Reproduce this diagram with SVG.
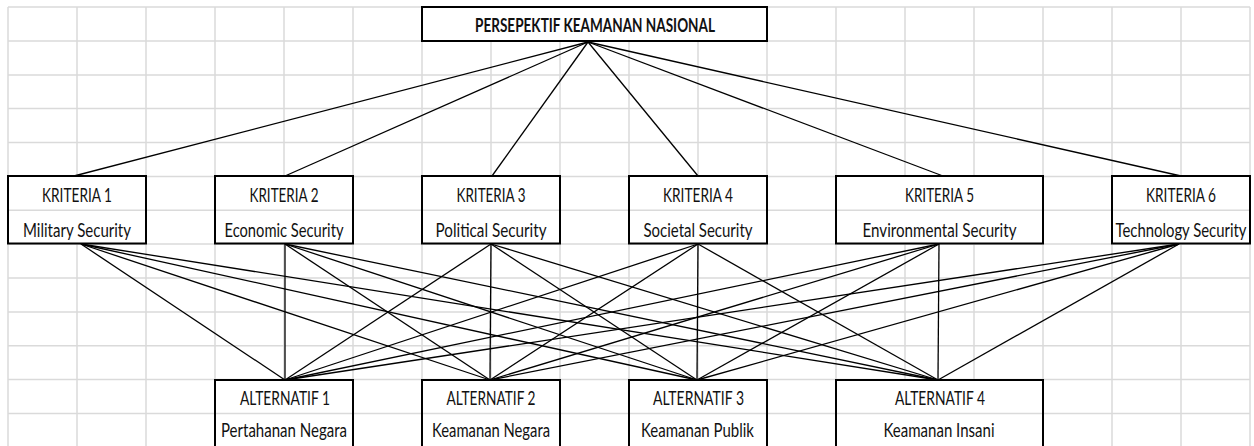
<svg xmlns="http://www.w3.org/2000/svg" width="1254" height="446" viewBox="0 0 1254 446">
  <style>
    .grid line { stroke: #dadada; stroke-width: 1.5; }
    .box { fill: #ffffff; stroke: #000000; stroke-width: 2; }
    .inner { stroke: #dadada; stroke-width: 1.5; }
    .lbl { font-family: Lato, "Liberation Sans", sans-serif; font-size: 19.5px; fill: #111111; text-anchor: middle; }
    .title { font-weight: 700; }
    #connectors line { stroke: #000000; stroke-width: 1.3; }
  </style>
  <rect width="1254" height="446" fill="#ffffff"/>

  <!-- worksheet cell grid -->
  <g class="grid" id="grid">
    <line x1="8" y1="7" x2="8" y2="446"/>
    <line x1="77" y1="7" x2="77" y2="446"/>
    <line x1="146" y1="7" x2="146" y2="446"/>
    <line x1="215" y1="7" x2="215" y2="446"/>
    <line x1="284" y1="7" x2="284" y2="446"/>
    <line x1="353" y1="7" x2="353" y2="446"/>
    <line x1="422" y1="7" x2="422" y2="446"/>
    <line x1="491" y1="7" x2="491" y2="446"/>
    <line x1="560" y1="7" x2="560" y2="446"/>
    <line x1="629" y1="7" x2="629" y2="446"/>
    <line x1="698" y1="7" x2="698" y2="446"/>
    <line x1="767" y1="7" x2="767" y2="446"/>
    <line x1="836" y1="7" x2="836" y2="446"/>
    <line x1="905" y1="7" x2="905" y2="446"/>
    <line x1="974" y1="7" x2="974" y2="446"/>
    <line x1="1043" y1="7" x2="1043" y2="446"/>
    <line x1="1112" y1="7" x2="1112" y2="446"/>
    <line x1="1181" y1="7" x2="1181" y2="446"/>
    <line x1="1250" y1="7" x2="1250" y2="446"/>
    <line x1="8" y1="7" x2="1250" y2="7"/>
    <line x1="8" y1="41" x2="1250" y2="41"/>
    <line x1="8" y1="75" x2="1250" y2="75"/>
    <line x1="8" y1="108.6" x2="1250" y2="108.6"/>
    <line x1="8" y1="142.5" x2="1250" y2="142.5"/>
    <line x1="8" y1="176.4" x2="1250" y2="176.4"/>
    <line x1="8" y1="210.3" x2="1250" y2="210.3"/>
    <line x1="8" y1="244.1" x2="1250" y2="244.1"/>
    <line x1="8" y1="278" x2="1250" y2="278"/>
    <line x1="8" y1="311.9" x2="1250" y2="311.9"/>
    <line x1="8" y1="345.8" x2="1250" y2="345.8"/>
    <line x1="8" y1="379.6" x2="1250" y2="379.6"/>
    <line x1="8" y1="413.5" x2="1250" y2="413.5"/>
  </g>

  <!-- connectors -->
  <g id="connectors">
    <!-- goal to criteria -->
    <line x1="588" y1="42" x2="74" y2="176"/>
    <line x1="588" y1="42" x2="285" y2="176"/>
    <line x1="588" y1="42" x2="492" y2="176"/>
    <line x1="588" y1="42" x2="698" y2="176"/>
    <line x1="588" y1="42" x2="943" y2="176"/>
    <line x1="588" y1="42" x2="1181" y2="176"/>
    <!-- criteria to alternatives -->
    <line x1="81" y1="244" x2="285" y2="380"/>
    <line x1="81" y1="244" x2="490" y2="380"/>
    <line x1="81" y1="244" x2="697" y2="380"/>
    <line x1="81" y1="244" x2="938" y2="380"/>
    <line x1="285" y1="244" x2="285" y2="380"/>
    <line x1="285" y1="244" x2="490" y2="380"/>
    <line x1="285" y1="244" x2="697" y2="380"/>
    <line x1="285" y1="244" x2="938" y2="380"/>
    <line x1="491" y1="244" x2="285" y2="380"/>
    <line x1="491" y1="244" x2="490" y2="380"/>
    <line x1="491" y1="244" x2="697" y2="380"/>
    <line x1="491" y1="244" x2="938" y2="380"/>
    <line x1="698" y1="244" x2="285" y2="380"/>
    <line x1="698" y1="244" x2="490" y2="380"/>
    <line x1="698" y1="244" x2="697" y2="380"/>
    <line x1="698" y1="244" x2="938" y2="380"/>
    <line x1="939" y1="244" x2="285" y2="380"/>
    <line x1="939" y1="244" x2="490" y2="380"/>
    <line x1="939" y1="244" x2="697" y2="380"/>
    <line x1="939" y1="244" x2="938" y2="380"/>
    <line x1="1179" y1="244" x2="285" y2="380"/>
    <line x1="1179" y1="244" x2="490" y2="380"/>
    <line x1="1179" y1="244" x2="697" y2="380"/>
    <line x1="1179" y1="244" x2="938" y2="380"/>
  </g>

  <!-- goal -->
  <g id="goal">
    <rect class="box" x="422" y="7" width="345" height="34"/>
    <text class="lbl title" x="595" y="32" textLength="240" lengthAdjust="spacingAndGlyphs">PERSEPEKTIF KEAMANAN NASIONAL</text>
  </g>

  <!-- criteria -->
  <g id="kriteria1">
    <rect class="box" x="8" y="176" width="138" height="67.5"/>
    <line class="inner" x1="9" y1="210.3" x2="145" y2="210.3"/>
    <text class="lbl" x="77" y="202" textLength="70" lengthAdjust="spacingAndGlyphs">KRITERIA 1</text>
    <text class="lbl" x="77" y="237" textLength="108" lengthAdjust="spacingAndGlyphs">Military Security</text>
  </g>
  <g id="kriteria2">
    <rect class="box" x="215" y="176" width="138" height="67.5"/>
    <line class="inner" x1="216" y1="210.3" x2="352" y2="210.3"/>
    <text class="lbl" x="284" y="202" textLength="69" lengthAdjust="spacingAndGlyphs">KRITERIA 2</text>
    <text class="lbl" x="284" y="237" textLength="119" lengthAdjust="spacingAndGlyphs">Economic Security</text>
  </g>
  <g id="kriteria3">
    <rect class="box" x="422" y="176" width="138" height="67.5"/>
    <line class="inner" x1="423" y1="210.3" x2="559" y2="210.3"/>
    <text class="lbl" x="491" y="202" textLength="69" lengthAdjust="spacingAndGlyphs">KRITERIA 3</text>
    <text class="lbl" x="491" y="237" textLength="111" lengthAdjust="spacingAndGlyphs">Political Security</text>
  </g>
  <g id="kriteria4">
    <rect class="box" x="629" y="176" width="138" height="67.5"/>
    <line class="inner" x1="630" y1="210.3" x2="766" y2="210.3"/>
    <text class="lbl" x="698" y="202" textLength="70" lengthAdjust="spacingAndGlyphs">KRITERIA 4</text>
    <text class="lbl" x="698" y="237" textLength="109" lengthAdjust="spacingAndGlyphs">Societal Security</text>
  </g>
  <g id="kriteria5">
    <rect class="box" x="836" y="176" width="207" height="67.5"/>
    <line class="inner" x1="837" y1="210.3" x2="1042" y2="210.3"/>
    <text class="lbl" x="939.5" y="202" textLength="69" lengthAdjust="spacingAndGlyphs">KRITERIA 5</text>
    <text class="lbl" x="939.5" y="237" textLength="154" lengthAdjust="spacingAndGlyphs">Environmental Security</text>
  </g>
  <g id="kriteria6">
    <rect class="box" x="1112" y="176" width="138" height="67.5"/>
    <line class="inner" x1="1113" y1="210.3" x2="1249" y2="210.3"/>
    <text class="lbl" x="1181" y="202" textLength="70" lengthAdjust="spacingAndGlyphs">KRITERIA 6</text>
    <text class="lbl" x="1181" y="237" textLength="131" lengthAdjust="spacingAndGlyphs">Technology Security</text>
  </g>

  <!-- alternatives -->
  <g id="alternatif1">
    <rect class="box" x="215" y="380" width="138" height="70"/>
    <line class="inner" x1="216" y1="413.5" x2="352" y2="413.5"/>
    <text class="lbl" x="285" y="405" textLength="90" lengthAdjust="spacingAndGlyphs">ALTERNATIF 1</text>
    <text class="lbl" x="284" y="437" textLength="126" lengthAdjust="spacingAndGlyphs">Pertahanan Negara</text>
  </g>
  <g id="alternatif2">
    <rect class="box" x="422" y="380" width="138" height="70"/>
    <line class="inner" x1="423" y1="413.5" x2="559" y2="413.5"/>
    <text class="lbl" x="491" y="405" textLength="89" lengthAdjust="spacingAndGlyphs">ALTERNATIF 2</text>
    <text class="lbl" x="491" y="437" textLength="118" lengthAdjust="spacingAndGlyphs">Keamanan Negara</text>
  </g>
  <g id="alternatif3">
    <rect class="box" x="629" y="380" width="138" height="70"/>
    <line class="inner" x1="630" y1="413.5" x2="766" y2="413.5"/>
    <text class="lbl" x="698.5" y="405" textLength="91" lengthAdjust="spacingAndGlyphs">ALTERNATIF 3</text>
    <text class="lbl" x="697.5" y="437" textLength="113" lengthAdjust="spacingAndGlyphs">Keamanan Publik</text>
  </g>
  <g id="alternatif4">
    <rect class="box" x="836" y="380" width="207" height="70"/>
    <line class="inner" x1="837" y1="413.5" x2="1042" y2="413.5"/>
    <text class="lbl" x="940" y="405" textLength="90" lengthAdjust="spacingAndGlyphs">ALTERNATIF 4</text>
    <text class="lbl" x="939" y="437" textLength="111" lengthAdjust="spacingAndGlyphs">Keamanan Insani</text>
  </g>
</svg>
